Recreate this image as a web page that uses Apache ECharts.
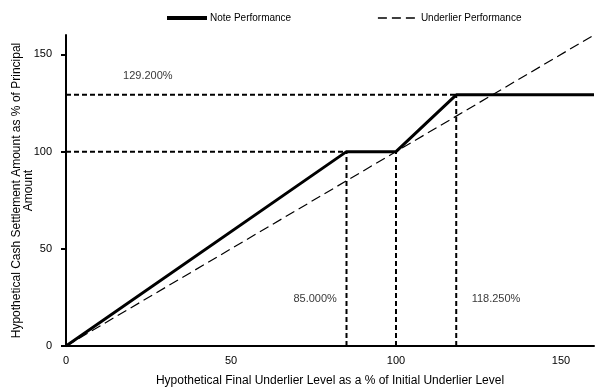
<!DOCTYPE html>
<html><head><meta charset="utf-8">
<script src="https://cdn.jsdelivr.net/npm/echarts@6/dist/echarts.min.js"></script>
<style>html,body{margin:0;padding:0;background:#fff}#c{width:602px;height:390px}</style>
</head><body><div id="c"></div>
<script>
var xTicks = [0, 50, 100, 150];
var yTicks = [0, 50, 100, 150];
var noteX = [0, 85, 100, 118.25, 160];
var noteY = [0, 100, 100, 129.2, 129.2];
var underX = [0, 160];
var underY = [0, 160];
// guide segments: [x1,y1,x2,y2]
var guides = [
  [0, 100, 85, 100],
  [0, 129.2, 118.25, 129.2],
  [85, 0, 85, 100],
  [100, 0, 100, 100],
  [118.25, 0, 118.25, 129.2]
];
var annText = ['129.200%', '85.000%', '118.250%'];
var annX = [24.8, 75.5, 130.3];
var annY = [139, 24, 24];

var font = 'Liberation Sans, Arial, sans-serif';
function zip(a, b) { return a.map(function (v, i) { return [v, b[i]]; }); }

var series = [];
guides.forEach(function (g) {
  series.push({
    type: 'line', silent: true, symbol: 'none', z: 1,
    data: [[g[0], g[1]], [g[2], g[3]]],
    lineStyle: { color: '#000', width: 2, type: [5, 3] }
  });
});
series.push({
  name: 'Underlier Performance', type: 'line', symbol: 'none', z: 2,
  data: zip(underX, underY),
  itemStyle: { color: '#000' },
  lineStyle: { color: '#000', width: 1.2, type: [10, 5] }
});
series.push({
  name: 'Note Performance', type: 'line', symbol: 'none', z: 3,
  data: zip(noteX, noteY),
  itemStyle: { color: '#000' },
  lineStyle: { color: '#000', width: 3 }
});
series.push({
  type: 'scatter', symbolSize: 0, silent: true,
  data: annX.map(function (x, i) { return { value: [x, annY[i]], name: annText[i] }; }),
  label: { show: true, position: 'inside', formatter: '{b}', color: '#000', fontSize: 11, fontFamily: font }
});

var chart = echarts.init(document.getElementById('c'));
chart.setOption({
  animation: false,
  backgroundColor: '#fff',
  legend: {
    left: 160, top: 8, itemGap: 86, itemWidth: 40, itemHeight: 10,
    data: [
      { name: 'Note Performance', lineStyle: { width: 4 } },
      { name: 'Underlier Performance', lineStyle: { width: 1.5, type: [9, 5] } }
    ],
    itemStyle: { opacity: 0 },
    textStyle: { fontSize: 10, fontFamily: font, color: '#000', padding: [0, 0, 0, -2] }
  },
  grid: { left: 66, right: 8, top: 35, bottom: 44, containLabel: false, outerBoundsMode: 'none' },
  xAxis: {
    type: 'value', min: 0, max: 160, interval: 50,
    name: 'Hypothetical Final Underlier Level as a % of Initial Underlier Level',
    nameLocation: 'middle', nameGap: 29, nameMoveOverlap: false,
    nameTextStyle: { fontSize: 12, fontFamily: font, color: '#000' },
    axisLine: { lineStyle: { color: '#000', width: 2 } },
    axisTick: { show: false },
    axisLabel: { fontSize: 11, fontFamily: font, color: '#000', margin: 9, customValues: xTicks },
    splitLine: { show: false }
  },
  yAxis: {
    type: 'value', min: 0, max: 160, interval: 50,
    name: 'Hypothetical Cash Settlement Amount as % of Principal\nAmount',
    nameLocation: 'middle', nameGap: 31, nameMoveOverlap: false,
    nameTextStyle: { fontSize: 12, fontFamily: font, color: '#000', lineHeight: 12 },
    axisLine: { show: true, lineStyle: { color: '#000', width: 2 } },
    axisTick: { show: true, length: 5, lineStyle: { color: '#000', width: 2 }, customValues: yTicks },
    axisLabel: { fontSize: 11, fontFamily: font, color: '#000', margin: 14, customValues: yTicks },
    splitLine: { show: false }
  },
  series: series
});
</script></body></html>
